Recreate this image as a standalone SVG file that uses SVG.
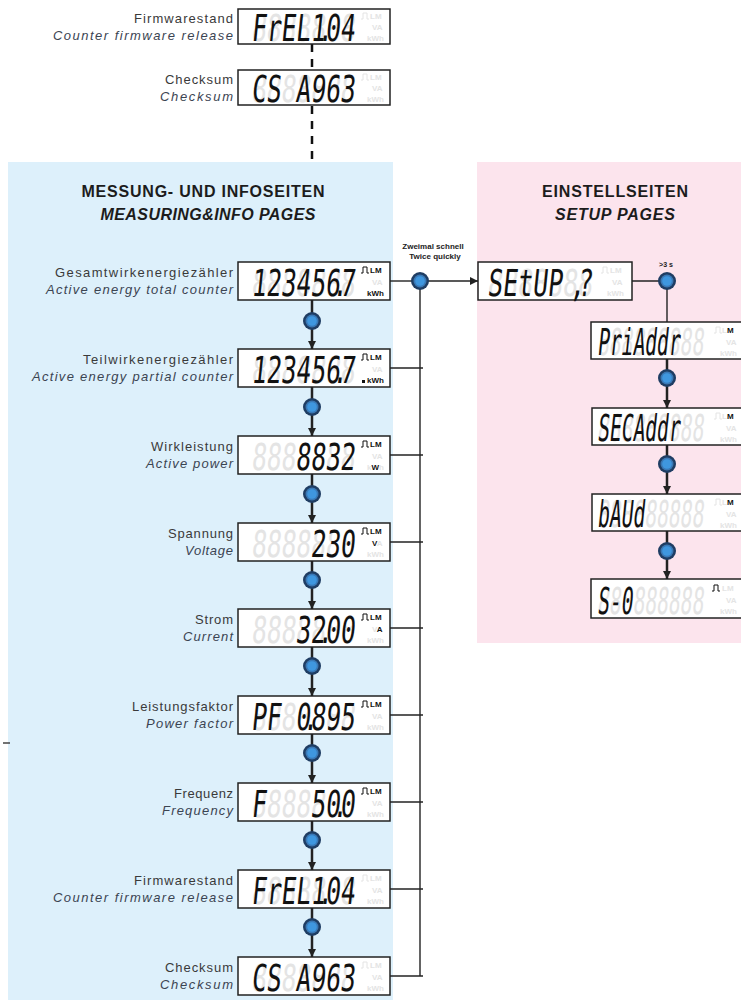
<svg xmlns="http://www.w3.org/2000/svg" width="741" height="1007" viewBox="0 0 741 1007">
<style>
.lbl{font-family:"Liberation Sans",Arial,sans-serif;font-size:13px;fill:#3a3a3a;text-anchor:end}
.lbl2{font-family:"Liberation Sans",Arial,sans-serif;font-size:13px;fill:#3b4452;font-style:italic;text-anchor:end}
.h1{font-family:"Liberation Sans",Arial,sans-serif;font-size:16px;font-weight:bold;fill:#1c1c1c;text-anchor:middle}
.h2{font-family:"Liberation Sans",Arial,sans-serif;font-size:16px;font-weight:bold;font-style:italic;fill:#1c1c1c;text-anchor:middle}
.small{font-family:"Liberation Sans",Arial,sans-serif;font-size:8px;font-weight:bold;fill:#222;text-anchor:middle}
.box{fill:#fff;stroke:#222;stroke-width:1.5}
.lcd{font-family:"DejaVu Sans Mono",monospace;font-size:37px;white-space:pre}
.on{fill:#111}
.off{fill:#e4e4e4}
.u{font-family:"Liberation Sans",Arial,sans-serif;font-size:8px;font-weight:bold}
.pon{fill:none;stroke:#111;stroke-width:1}
.poff{fill:none;stroke:#e4e4e4;stroke-width:1}
.thick{stroke:#222;stroke-width:2.5;fill:none}
.thin{stroke:#222;stroke-width:1.4;fill:none}
.dash{stroke:#111;stroke-width:2.5;stroke-dasharray:8 7;fill:none}
</style>
<defs>
<marker id="arr" markerUnits="userSpaceOnUse" markerWidth="8" markerHeight="8" refX="8" refY="4" orient="auto">
<path d="M0,0 L8,4 L0,8 z" fill="#222"/>
</marker>
<g id="btn">
<circle r="9" fill="#1f3d63"/>
<circle r="6.5" fill="#3a78b5"/>
<circle r="4.8" fill="#3f97df"/>
</g>
</defs>

<!-- panels -->
<rect id="panel-measure" x="8" y="162" width="385" height="838" fill="#ddf0fb"/>
<rect id="panel-setup" x="477" y="162" width="264" height="481" fill="#fce4ed"/>
<line x1="3" y1="743" x2="10" y2="743" stroke="#444" stroke-width="1.5"/>

<!-- titles -->
<g id="title-measure">
<text class="h1" x="203" y="197" textLength="243" lengthAdjust="spacing">MESSUNG- UND INFOSEITEN</text>
<text class="h2" x="208" y="220" textLength="215" lengthAdjust="spacing">MEASURING&amp;INFO PAGES</text>
</g>
<g id="title-setup">
<text class="h1" x="615" y="197" textLength="146" lengthAdjust="spacing">EINSTELLSEITEN</text>
<text class="h2" x="615" y="220" textLength="120" lengthAdjust="spacing">SETUP PAGES</text>
</g>

<!-- connectors -->
<g id="connectors">
<line class="dash" x1="312" y1="44" x2="312" y2="70"/>
<line class="dash" x1="312" y1="106" x2="312" y2="163"/>
<line class="thick" x1="312" y1="300" x2="312" y2="349" marker-end="url(#arr)"/>
<line class="thick" x1="312" y1="387" x2="312" y2="436" marker-end="url(#arr)"/>
<line class="thick" x1="312" y1="474" x2="312" y2="523" marker-end="url(#arr)"/>
<line class="thick" x1="312" y1="561" x2="312" y2="609" marker-end="url(#arr)"/>
<line class="thick" x1="312" y1="647" x2="312" y2="696" marker-end="url(#arr)"/>
<line class="thick" x1="312" y1="734" x2="312" y2="783" marker-end="url(#arr)"/>
<line class="thick" x1="312" y1="821" x2="312" y2="870" marker-end="url(#arr)"/>
<line class="thick" x1="312" y1="908" x2="312" y2="957" marker-end="url(#arr)"/>
<line class="thin" x1="390" y1="281" x2="420" y2="281"/>
<line class="thin" x1="420" y1="281" x2="478" y2="281" marker-end="url(#arr)"/>
<line class="thin" x1="420" y1="281" x2="420" y2="976"/>
<line class="thin" x1="390" y1="368" x2="423" y2="368"/>
<line class="thin" x1="390" y1="455" x2="423" y2="455"/>
<line class="thin" x1="390" y1="542" x2="423" y2="542"/>
<line class="thin" x1="390" y1="628" x2="423" y2="628"/>
<line class="thin" x1="390" y1="715" x2="423" y2="715"/>
<line class="thin" x1="390" y1="802" x2="423" y2="802"/>
<line class="thin" x1="390" y1="889" x2="423" y2="889"/>
<line class="thin" x1="390" y1="976" x2="423" y2="976"/>
<line class="thin" x1="632" y1="281" x2="667" y2="281"/>
<line class="thin" x1="667" y1="281" x2="667" y2="322"/>
<line class="thick" x1="667" y1="359" x2="667" y2="408" marker-end="url(#arr)"/>
<line class="thick" x1="667" y1="445" x2="667" y2="494" marker-end="url(#arr)"/>
<line class="thick" x1="667" y1="531" x2="667" y2="579" marker-end="url(#arr)"/>
<use href="#btn" x="312" y="321"/>
<use href="#btn" x="312" y="407"/>
<use href="#btn" x="312" y="494"/>
<use href="#btn" x="312" y="580"/>
<use href="#btn" x="312" y="666"/>
<use href="#btn" x="312" y="753"/>
<use href="#btn" x="312" y="840"/>
<use href="#btn" x="312" y="927"/>
<use href="#btn" x="420" y="281"/>
<use href="#btn" x="667" y="281"/>
<use href="#btn" x="667" y="378"/>
<use href="#btn" x="667" y="464"/>
<use href="#btn" x="667" y="551"/>
<text class="small" x="433" y="249">Zweimal schnell</text>
<text class="small" x="435" y="259">Twice quickly</text>
<text class="small" x="666" y="267" style="font-size:7px">&gt;3 s</text>
</g>

<!-- top firmware -->
<g id="top-firmware">
<text class="lbl" x="233" y="23" textLength="99" lengthAdjust="spacing">Firmwarestand</text>
<text class="lbl2" x="233" y="40" textLength="180" lengthAdjust="spacing">Counter firmware release</text>
<rect class="box" x="238" y="9" width="152" height="35"/>
<g transform="translate(251,41) skewX(-6) scale(0.664,1)">
<text class="lcd off" xml:space="preserve">8888888</text>
<text class="lcd on" xml:space="preserve">FrEL104</text>
<text class="lcd on" x="100.3">.</text>
</g>
<polyline class="poff" points="361,19 363,19 363,13 367,13 367,19 369,19"/>
<text class="u off" x="370" y="19">LM</text>
<text class="u off" x="372" y="30">VA</text>
<text class="u off" x="367" y="41">kWh</text>
</g>

<g id="top-checksum">
<text class="lbl" x="233" y="84" textLength="68" lengthAdjust="spacing">Checksum</text>
<text class="lbl2" x="233" y="101" textLength="73" lengthAdjust="spacing">Checksum</text>
<rect class="box" x="238" y="70" width="152" height="35"/>
<g transform="translate(251,102) skewX(-6) scale(0.664,1)">
<text class="lcd off" xml:space="preserve">8888888</text>
<text class="lcd on" xml:space="preserve">CS A963</text>
</g>
<polyline class="poff" points="361,80 363,80 363,74 367,74 367,80 369,80"/>
<text class="u off" x="370" y="80">LM</text>
<text class="u off" x="372" y="91">VA</text>
<text class="u off" x="367" y="102">kWh</text>
</g>

<!-- main column -->
<g id="n-total">
<text class="lbl" x="233" y="277" textLength="178" lengthAdjust="spacing">Gesamtwirkenergiezähler</text>
<text class="lbl2" x="233" y="294" textLength="187" lengthAdjust="spacing">Active energy total counter</text>
<rect class="box" x="238" y="262" width="152" height="38"/>
<g transform="translate(251,296) skewX(-6) scale(0.664,1)">
<text class="lcd off" xml:space="preserve">8888888</text>
<text class="lcd on" xml:space="preserve">1234567</text>
<text class="lcd on" x="122.5">.</text>
</g>
<polyline class="pon" points="361,273 363,273 363,267 367,267 367,273 369,273"/>
<text class="u on" x="370" y="273">LM</text>
<text class="u off" x="372" y="285">VA</text>
<text class="u on" x="367" y="296">kWh</text>
</g>

<g id="n-partial">
<text class="lbl" x="233" y="364" textLength="150" lengthAdjust="spacing">Teilwirkenergiezähler</text>
<text class="lbl2" x="233" y="381" textLength="201" lengthAdjust="spacing">Active energy partial counter</text>
<rect class="box" x="238" y="349" width="152" height="38"/>
<g transform="translate(251,383) skewX(-6) scale(0.664,1)">
<text class="lcd off" xml:space="preserve">8888888</text>
<text class="lcd on" xml:space="preserve">1234567</text>
<text class="lcd on" x="122.5">.</text>
</g>
<polyline class="pon" points="361,360 363,360 363,354 367,354 367,360 369,360"/>
<text class="u on" x="370" y="360">LM</text>
<text class="u off" x="372" y="372">VA</text>
<rect x="362" y="380" width="3" height="3" fill="#111"/>
<text class="u on" x="367" y="383">kWh</text>
</g>

<g id="n-power">
<text class="lbl" x="233" y="451" textLength="82" lengthAdjust="spacing">Wirkleistung</text>
<text class="lbl2" x="233" y="468" textLength="87" lengthAdjust="spacing">Active power</text>
<rect class="box" x="238" y="436" width="152" height="38"/>
<g transform="translate(251,470) skewX(-6) scale(0.664,1)">
<text class="lcd off" xml:space="preserve">8888888</text>
<text class="lcd on" xml:space="preserve">   8832</text>
</g>
<polyline class="pon" points="361,447 363,447 363,441 367,441 367,447 369,447"/>
<text class="u on" x="370" y="447">LM</text>
<text class="u off" x="372" y="459">VA</text>
<text class="u" x="367" y="470"><tspan class="off">k</tspan><tspan class="on">W</tspan><tspan class="off">h</tspan></text>
</g>

<g id="n-voltage">
<text class="lbl" x="233" y="538" textLength="65" lengthAdjust="spacing">Spannung</text>
<text class="lbl2" x="233" y="555" textLength="48" lengthAdjust="spacing">Voltage</text>
<rect class="box" x="238" y="523" width="152" height="38"/>
<g transform="translate(251,557) skewX(-6) scale(0.664,1)">
<text class="lcd off" xml:space="preserve">8888888</text>
<text class="lcd on" xml:space="preserve">    230</text>
</g>
<polyline class="pon" points="361,534 363,534 363,528 367,528 367,534 369,534"/>
<text class="u on" x="370" y="534">LM</text>
<text class="u" x="372" y="546"><tspan class="on">V</tspan><tspan class="off">A</tspan></text>
<text class="u off" x="367" y="557">kWh</text>
</g>

<g id="n-current">
<text class="lbl" x="233" y="624" textLength="38" lengthAdjust="spacing">Strom</text>
<text class="lbl2" x="233" y="641" textLength="50" lengthAdjust="spacing">Current</text>
<rect class="box" x="238" y="609" width="152" height="38"/>
<g transform="translate(251,643) skewX(-6) scale(0.664,1)">
<text class="lcd off" xml:space="preserve">8888888</text>
<text class="lcd on" xml:space="preserve">   3200</text>
<text class="lcd on" x="100.3">.</text>
</g>
<polyline class="pon" points="361,620 363,620 363,614 367,614 367,620 369,620"/>
<text class="u on" x="370" y="620">LM</text>
<text class="u" x="372" y="632"><tspan class="off">V</tspan><tspan class="on">A</tspan></text>
<text class="u off" x="367" y="643">kWh</text>
</g>

<g id="n-pf">
<text class="lbl" x="233" y="711" textLength="101" lengthAdjust="spacing">Leistungsfaktor</text>
<text class="lbl2" x="233" y="728" textLength="87" lengthAdjust="spacing">Power factor</text>
<rect class="box" x="238" y="696" width="152" height="38"/>
<g transform="translate(251,730) skewX(-6) scale(0.664,1)">
<text class="lcd off" xml:space="preserve">8888888</text>
<text class="lcd on" xml:space="preserve">PF 0895</text>
<text class="lcd on" x="78">.</text>
</g>
<polyline class="pon" points="361,707 363,707 363,701 367,701 367,707 369,707"/>
<text class="u on" x="370" y="707">LM</text>
<text class="u off" x="372" y="719">VA</text>
<text class="u off" x="367" y="730">kWh</text>
</g>

<g id="n-freq">
<text class="lbl" x="233" y="798" textLength="59" lengthAdjust="spacing">Frequenz</text>
<text class="lbl2" x="233" y="815" textLength="71" lengthAdjust="spacing">Frequency</text>
<rect class="box" x="238" y="783" width="152" height="38"/>
<g transform="translate(251,817) skewX(-6) scale(0.664,1)">
<text class="lcd off" xml:space="preserve">8888888</text>
<text class="lcd on" xml:space="preserve">F   500</text>
<text class="lcd on" x="122.5">.</text>
</g>
<polyline class="pon" points="361,794 363,794 363,788 367,788 367,794 369,794"/>
<text class="u on" x="370" y="794">LM</text>
<text class="u off" x="372" y="806">VA</text>
<text class="u off" x="367" y="817">kWh</text>
</g>

<g id="n-firmware">
<text class="lbl" x="233" y="885" textLength="99" lengthAdjust="spacing">Firmwarestand</text>
<text class="lbl2" x="233" y="902" textLength="180" lengthAdjust="spacing">Counter firmware release</text>
<rect class="box" x="238" y="870" width="152" height="38"/>
<g transform="translate(251,904) skewX(-6) scale(0.664,1)">
<text class="lcd off" xml:space="preserve">8888888</text>
<text class="lcd on" xml:space="preserve">FrEL104</text>
<text class="lcd on" x="100.3">.</text>
</g>
<polyline class="poff" points="361,881 363,881 363,875 367,875 367,881 369,881"/>
<text class="u off" x="370" y="881">LM</text>
<text class="u off" x="372" y="893">VA</text>
<text class="u off" x="367" y="904">kWh</text>
</g>

<g id="n-checksum">
<text class="lbl" x="233" y="972" textLength="68" lengthAdjust="spacing">Checksum</text>
<text class="lbl2" x="233" y="989" textLength="73" lengthAdjust="spacing">Checksum</text>
<rect class="box" x="238" y="957" width="152" height="38"/>
<g transform="translate(251,991) skewX(-6) scale(0.664,1)">
<text class="lcd off" xml:space="preserve">8888888</text>
<text class="lcd on" xml:space="preserve">CS A963</text>
</g>
<polyline class="poff" points="361,968 363,968 363,962 367,962 367,968 369,968"/>
<text class="u off" x="370" y="968">LM</text>
<text class="u off" x="372" y="980">VA</text>
<text class="u off" x="367" y="991">kWh</text>
</g>

<!-- setup column -->
<g id="n-setup">
<rect class="box" x="478" y="262" width="154" height="38"/>
<g transform="translate(487,296) skewX(-6) scale(0.673,1)">
<text class="lcd off" xml:space="preserve">8888888</text>
<text class="lcd on" xml:space="preserve">SEtUP ?</text>
<text class="lcd on" x="122.5">,</text>
</g>
<polyline class="poff" points="601,273 603,273 603,267 607,267 607,273 609,273"/>
<text class="u off" x="610" y="273">LM</text>
<text class="u off" x="612" y="285">VA</text>
<text class="u off" x="607" y="296">kWh</text>
</g>

<g id="n-priaddr">
<rect class="box" x="591" y="322" width="160" height="37"/>
<g transform="translate(597,355) skewX(-6) scale(0.53,1)">
<text class="lcd off" xml:space="preserve">888888888</text>
<text class="lcd on" xml:space="preserve">PriAddr</text>
</g>
<polyline class="poff" points="714,333 716,333 716,327 720,327 720,333 722,333"/>
<text class="u" x="722" y="333"><tspan class="off">L</tspan><tspan class="on">M</tspan></text>
<text class="u off" x="726" y="345">VA</text>
<text class="u off" x="720" y="356">kWh</text>
</g>

<g id="n-secaddr">
<rect class="box" x="592" y="408" width="160" height="37"/>
<g transform="translate(597,441) skewX(-6) scale(0.53,1)">
<text class="lcd off" xml:space="preserve">888888888</text>
<text class="lcd on" xml:space="preserve">SECAddr</text>
</g>
<polyline class="poff" points="714,419 716,419 716,413 720,413 720,419 722,419"/>
<text class="u" x="722" y="419"><tspan class="off">L</tspan><tspan class="on">M</tspan></text>
<text class="u off" x="726" y="431">VA</text>
<text class="u off" x="720" y="442">kWh</text>
</g>

<g id="n-baud">
<rect class="box" x="592" y="494" width="160" height="37"/>
<g transform="translate(597,527) skewX(-6) scale(0.53,1)">
<text class="lcd off" xml:space="preserve">888888888</text>
<text class="lcd on" xml:space="preserve">bAUd</text>
</g>
<polyline class="poff" points="714,505 716,505 716,499 720,499 720,505 722,505"/>
<text class="u" x="722" y="505"><tspan class="off">L</tspan><tspan class="on">M</tspan></text>
<text class="u off" x="726" y="517">VA</text>
<text class="u off" x="720" y="528">kWh</text>
</g>

<g id="n-s0">
<rect class="box" x="591" y="579" width="160" height="39"/>
<g transform="translate(597,614) skewX(-6) scale(0.53,1)">
<text class="lcd off" xml:space="preserve">888888888</text>
<text class="lcd on" xml:space="preserve">S-0</text>
</g>
<polyline class="pon" points="712,591 714,591 714,585 718,585 718,591 720,591"/>
<text class="u off" x="722" y="591">LM</text>
<text class="u off" x="726" y="603">VA</text>
<text class="u off" x="720" y="614">kWh</text>
</g>
</svg>
